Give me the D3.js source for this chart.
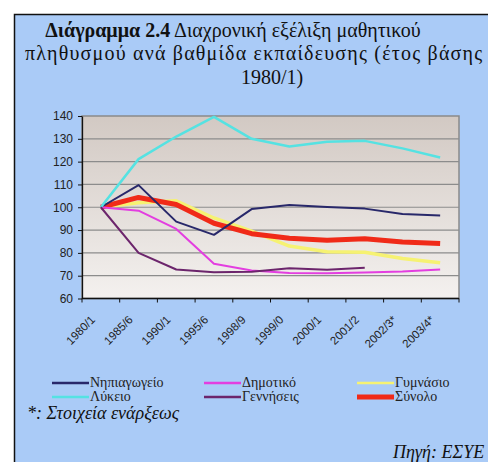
<!DOCTYPE html>
<html>
<head>
<meta charset="utf-8">
<script src="https://cdn.jsdelivr.net/npm/d3@7"></script>
<style>
  body { margin: 0; background: #fff; }
  svg { display: block; }
</style>
</head>
<body>
<svg id="chart" width="488" height="462"></svg>
<script>
// categories (school years) and index values, 1980/1 = 100
var categories = ["1980/1", "1985/6", "1990/1", "1995/6", "1998/9", "1999/0", "2000/1", "2001/2", "2002/3*", "2003/4*"];
var nipiagogeio = [100, 109.7, 93.7, 87.9, 99.2, 101, 100.1, 99.4, 97, 96.4];
var dimotiko = [100, 98.5, 90.5, 75.2, 72.3, 71.2, 71.1, 71.4, 71.8, 72.7];
var gymnasio = [100, 102, 102.8, 95.3, 89.5, 83, 80.5, 80.3, 77.5, 75.7];
var lykeio = [100, 121.1, 131, 139.6, 130, 126.6, 128.7, 129.1, 125.8, 121.8];
var genniseis = [100, 80, 72.7, 71.5, 71.7, 73.3, 72.6, 73.5, null, null];
var synolo = [100, 104.3, 101.2, 93, 88.4, 86.4, 85.5, 86.2, 84.8, 84.1];
var yTicks = [60, 70, 80, 90, 100, 110, 120, 130, 140];

var SERIF = "'Liberation Serif'";
var SANS = "'Liberation Sans'";

var series = [
  {name: "Γυμνάσιο", values: gymnasio, color: "#f6f272", width: 3.5},
  {name: "Σύνολο", values: synolo, color: "#f02a18", width: 5},
  {name: "Νηπιαγωγείο", values: nipiagogeio, color: "#28286a", width: 2},
  {name: "Δημοτικό", values: dimotiko, color: "#e33ee0", width: 2},
  {name: "Λύκειο", values: lykeio, color: "#55e2e2", width: 2.5},
  {name: "Γεννήσεις", values: genniseis, color: "#6c256c", width: 2}
];

var svg = d3.select("#chart");

// blue panel
svg.append("rect")
    .attr("x", 14.5).attr("y", 14.5)
    .attr("width", 520).attr("height", 520)
    .style("fill", "#aacbf7")
    .style("stroke", "#111")
    .style("stroke-width", 1.5);

// title
var t1 = svg.append("text")
    .attr("x", 233).attr("y", 37)
    .attr("text-anchor", "middle")
    .style("font-family", SERIF)
    .style("font-size", "20px")
    .style("fill", "#111");
t1.append("tspan").style("font-weight", "bold").text("Διάγραμμα 2.4");
t1.append("tspan").text(" Διαχρονική εξέλιξη μαθητικού");
svg.append("text")
    .attr("x", 25).attr("y", 60)
    .style("font-family", SERIF)
    .style("font-size", "20px")
    .style("letter-spacing", "1.2px")
    .style("fill", "#111")
    .text("πληθυσμού ανά βαθμίδα εκπαίδευσης (έτος βάσης");
svg.append("text")
    .attr("x", 272).attr("y", 84)
    .attr("text-anchor", "middle")
    .style("font-family", SERIF)
    .style("font-size", "20px")
    .style("fill", "#111")
    .text("1980/1)");

var x = d3.scaleBand()
    .domain(categories)
    .range([82, 459]);

var y = d3.scaleLinear()
    .domain([60, 140])
    .range([298.5, 116]);

// plot area gradient
var defs = svg.append("defs");
var grad = defs.append("linearGradient")
    .attr("id", "plotBg")
    .attr("x1", 0).attr("y1", 0).attr("x2", 0).attr("y2", 1);
grad.append("stop").attr("offset", "0%").attr("stop-color", "#d2c9c3");
grad.append("stop").attr("offset", "100%").attr("stop-color", "#f4f1ef");

svg.append("rect")
    .attr("x", 82).attr("y", 116)
    .attr("width", 459 - 82).attr("height", 298.5 - 116)
    .style("fill", "url(#plotBg)")
    .style("stroke", "#8a8a8a")
    .style("stroke-width", 1.5);

// gridlines
svg.append("g")
    .selectAll("line")
    .data(yTicks.slice(1, -1))
    .enter()
    .append("line")
      .attr("x1", 82).attr("x2", 459)
      .attr("y1", function(d) { return y(d); })
      .attr("y2", function(d) { return y(d); })
      .style("stroke", "#8c8c8c")
      .style("stroke-width", 1.2);

// y axis
var gY = svg.append("g")
    .attr("transform", "translate(82,0)")
    .call(d3.axisLeft(y).tickValues(yTicks).tickSize(4).tickPadding(5).tickSizeOuter(0));
gY.select(".domain").style("stroke", "#111").style("stroke-width", 1.3);
gY.selectAll(".tick line").style("stroke", "#111");
gY.selectAll("text")
    .style("font-family", SANS)
    .style("font-size", "12px")
    .style("fill", "#222");

// x axis: ticks on category boundaries
var gX = svg.append("g")
    .attr("transform", "translate(0,298.5)");
gX.append("line")
    .attr("x1", 82).attr("x2", 459)
    .style("stroke", "#111").style("stroke-width", 1.3);
gX.selectAll(".xtick")
    .data(categories.concat(["end"]))
    .enter()
    .append("line")
      .attr("class", "xtick")
      .attr("x1", function(d, i) { return i < categories.length ? x(d) : x.range()[1]; })
      .attr("x2", function(d, i) { return i < categories.length ? x(d) : x.range()[1]; })
      .attr("y1", 0).attr("y2", 4)
      .style("stroke", "#111");
gX.selectAll(".xlabel")
    .data(categories)
    .enter()
    .append("text")
      .attr("transform", function(d) {
        return "translate(" + (x(d) + x.bandwidth() / 2 - 5) + ",22) rotate(-45)";
      })
      .attr("text-anchor", "end")
      .style("font-family", SANS)
      .style("font-size", "11.5px")
      .style("fill", "#222")
      .text(function(d) { return d; });

// lines
var line = d3.line()
    .defined(function(d) { return d != null; })
    .x(function(d, i) { return x(categories[i]) + x.bandwidth() / 2; })
    .y(function(d) { return y(d); });

svg.append("g")
    .selectAll("path")
    .data(series)
    .enter()
    .append("path")
      .attr("d", function(d) { return line(d.values); })
      .style("fill", "none")
      .style("stroke", function(d) { return d.color; })
      .style("stroke-width", function(d) { return d.width; })
      .style("stroke-linejoin", "round");

// legend
var legendOrder = ["Νηπιαγωγείο", "Δημοτικό", "Γυμνάσιο", "Λύκειο", "Γεννήσεις", "Σύνολο"];
var legendX = [52, 204, 357];
var legend = svg.append("g")
    .selectAll("g")
    .data(legendOrder)
    .enter()
    .append("g")
      .attr("transform", function(d, i) {
        return "translate(" + legendX[i % 3] + "," + (383 + Math.floor(i / 3) * 14) + ")";
      });
legend.append("line")
    .attr("x1", 0).attr("x2", 37)
    .style("stroke", function(d) { return series.find(function(s) { return s.name === d; }).color; })
    .style("stroke-width", function(d) { return d === "Σύνολο" ? 5 : 2.5; });
legend.append("text")
    .attr("x", 38).attr("y", 4)
    .style("font-family", SERIF)
    .style("font-size", "14px")
    .style("fill", "#222")
    .text(function(d) { return d; });

// notes
svg.append("text")
    .attr("x", 27).attr("y", 419)
    .style("font-family", SERIF)
    .style("font-size", "18px")
    .style("font-style", "italic")
    .style("fill", "#111")
    .text("*: Στοιχεία ενάρξεως");
svg.append("text")
    .attr("x", 393).attr("y", 458)
    .style("font-family", SERIF)
    .style("font-size", "18px")
    .style("font-style", "italic")
    .style("fill", "#111")
    .text("Πηγή: ΕΣΥΕ");
</script>
</body>
</html>
